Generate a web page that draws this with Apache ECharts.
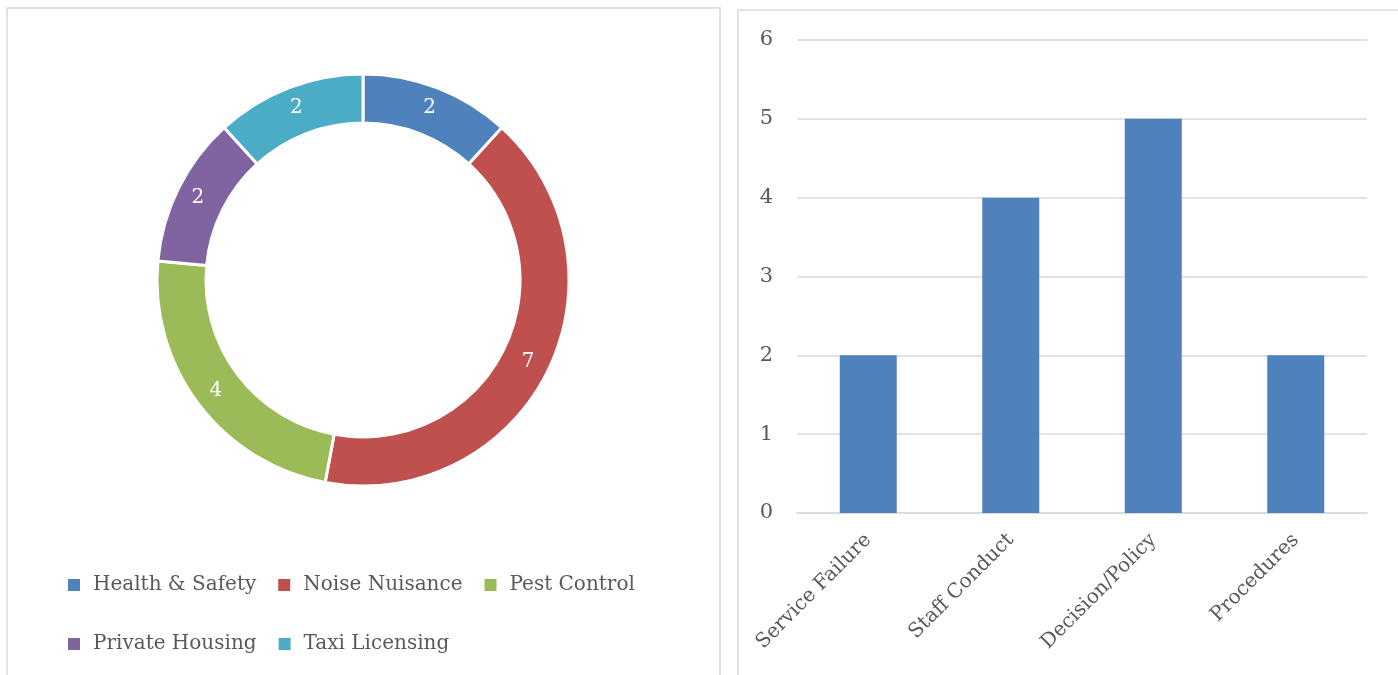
<!DOCTYPE html>
<html>
<head>
<meta charset="utf-8">
<script src="https://cdn.jsdelivr.net/npm/echarts@6/dist/echarts.min.js"></script>
<style>
html,body{margin:0;padding:0;background:#fff;}
#c{width:1398px;height:675px;}
</style>
</head>
<body>
<div id="c"></div>
<script>
const pieCategories = ['Health & Safety', 'Noise Nuisance', 'Pest Control', 'Private Housing', 'Taxi Licensing'];
const pieValues = [2, 7, 4, 2, 2];
const pieColors = ['#4F81BD', '#C0504D', '#9BBB59', '#8064A2', '#4BACC6'];
const barCategories = ['Service Failure', 'Staff Conduct', 'Decision/Policy', 'Procedures'];
const barValues = [2, 4, 5, 2];
const yTicks = [0, 1, 2, 3, 4, 5, 6];

const FONT = 'DejaVu Serif';
const TXT = '#595959';
const chart = echarts.init(document.getElementById('c'), null, {renderer: 'canvas'});

const legendCommon = {
  orient: 'horizontal',
  padding: 0,
  itemWidth: 14,
  itemHeight: 14,
  itemGap: 20,
  icon: 'rect',
  textStyle: {fontFamily: FONT, fontSize: 20, color: TXT, padding: [0, 0, 0, 7]},
  selectedMode: false
};

chart.setOption({
  animation: false,
  color: pieColors,
  graphic: [
    {type: 'rect', shape: {x: 7, y: 8, width: 713, height: 720}, style: {fill: 'none', stroke: '#d9d9d9', lineWidth: 1.5}, silent: true},
    {type: 'rect', shape: {x: 738, y: 10, width: 720, height: 720}, style: {fill: 'none', stroke: '#d9d9d9', lineWidth: 1.5}, silent: true}
  ],
  legend: [
    Object.assign({left: 66, top: 575, data: pieCategories.slice(0, 3)}, legendCommon),
    Object.assign({left: 66, top: 634, data: pieCategories.slice(3)}, legendCommon)
  ],
  grid: {left: 797, right: 31, top: 40, bottom: 162, containLabel: false},
  xAxis: {
    type: 'category',
    data: barCategories,
    axisLine: {show: true, lineStyle: {color: '#d9d9d9', width: 1.5}},
    axisTick: {show: false},
    axisLabel: {rotate: 45, interval: 0, margin: 24, fontFamily: FONT, fontSize: 20, color: TXT}
  },
  yAxis: {
    type: 'value',
    min: yTicks[0],
    max: yTicks[yTicks.length - 1],
    interval: 1,
    axisLine: {show: false},
    axisTick: {show: false},
    splitLine: {lineStyle: {color: '#d9d9d9', width: 1.5}},
    axisLabel: {margin: 24, fontFamily: FONT, fontSize: 21, color: TXT}
  },
  series: [
    {
      type: 'pie',
      center: [363, 280],
      radius: [157, 206],
      startAngle: 90,
      clockwise: true,
      avoidLabelOverlap: false,
      itemStyle: {borderColor: '#fff', borderWidth: 3},
      label: {position: 'inside', formatter: '{c}', color: '#fff', fontFamily: FONT, fontSize: 20},
      labelLine: {show: false},
      emphasis: {disabled: true},
      data: pieCategories.map((n, i) => ({name: n, value: pieValues[i]}))
    },
    {
      type: 'bar',
      data: barValues,
      barCategoryGap: '60%',
      itemStyle: {color: '#4F81BD'},
      emphasis: {disabled: true}
    }
  ]
});
</script>
</body>
</html>
